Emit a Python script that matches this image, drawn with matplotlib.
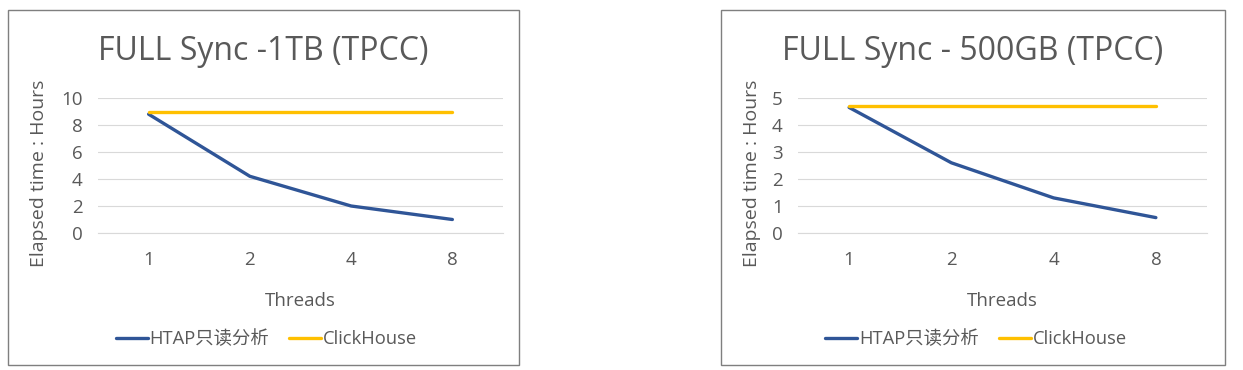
import matplotlib.pyplot as plt
from matplotlib.patches import Rectangle

plt.rcParams['font.family'] = ['Open Sans', 'Noto Sans CJK SC', 'DejaVu Sans']

threads = ['1', '2', '4', '8']

# 1TB chart
htap_1tb = [8.8, 4.2, 2.0, 1.0]
ch_1tb = [9.0, 9.0, 9.0, 9.0]
yticks_1tb = [0, 2, 4, 6, 8, 10]

# 500GB chart
htap_500gb = [4.65, 2.6, 1.3, 0.57]
ch_500gb = [4.7, 4.7, 4.7, 4.7]
yticks_500gb = [0, 1, 2, 3, 4, 5]

blue = '#2F5597'
yellow = '#FFC000'
grey_txt = '#595959'
grid_c = '#D9D9D9'

W, H = 1243, 370
fig = plt.figure(figsize=(W / 100, H / 100), dpi=100)

charts = [
    # title, htap, ch, ticks, box (x0, x1), plot (x0, width)
    ('FULL Sync -1TB (TPCC)', htap_1tb, ch_1tb, yticks_1tb, (8, 519), (98, 405)),
    ('FULL Sync - 500GB (TPCC)', htap_500gb, ch_500gb, yticks_500gb, (721, 1225), (798, 409)),
]

for title, htap, ch, ticks, box, plot in charts:
    # chart border
    fig.patches.append(Rectangle((box[0] / W, 5 / H), (box[1] - box[0]) / W, 355 / H,
                                 transform=fig.transFigure, fill=False,
                                 edgecolor='#7F7F7F', linewidth=1))
    ax = fig.add_axes([plot[0] / W, 137 / H, plot[1] / W, 135 / H])
    x = range(len(threads))
    ax.plot(x, htap, color=blue, linewidth=2.4, label='HTAP只读分析', solid_capstyle='round')
    ax.plot(x, ch, color=yellow, linewidth=2.4, label='ClickHouse', solid_capstyle='round')
    ax.set_xlim(-0.5, 3.5)
    ax.set_ylim(ticks[0], ticks[-1])
    ax.set_yticks(ticks)
    ax.set_xticks(list(x))
    ax.set_xticklabels(threads)
    ax.grid(axis='y', color=grid_c, linewidth=0.8)
    ax.set_axisbelow(True)
    for s in ['top', 'right', 'left']:
        ax.spines[s].set_visible(False)
    ax.spines['bottom'].set_color(grid_c)
    ax.spines['bottom'].set_linewidth(0.8)
    ax.tick_params(axis='y', length=0, pad=11, labelsize=13.5, labelcolor=grey_txt)
    ax.tick_params(axis='x', length=0, pad=13, labelsize=13.5, labelcolor=grey_txt)
    ax.set_ylabel('Elapsed time : Hours', fontsize=14, color=grey_txt)
    ax.yaxis.set_label_coords((box[0] + 40 - plot[0]) / plot[1], 0.44)
    ax.set_xlabel('Threads', fontsize=13.5, color=grey_txt)
    ax.xaxis.set_label_coords(0.5, -(292 - 233) / 135)
    cx = (box[0] + box[1]) / 2 / W
    fig.text(cx, 1 - 51 / H, title, fontsize=23, color=grey_txt, ha='center', va='center')
    ax.legend(loc='center', bbox_to_anchor=(cx + 3 / W, 1 - 339 / H), bbox_transform=fig.transFigure,
              ncol=2, frameon=False, fontsize=13.2, labelcolor=grey_txt,
              handlelength=1.75, handletextpad=0.1, columnspacing=1.1)

fig.savefig('out.png', dpi=100, facecolor='white')
